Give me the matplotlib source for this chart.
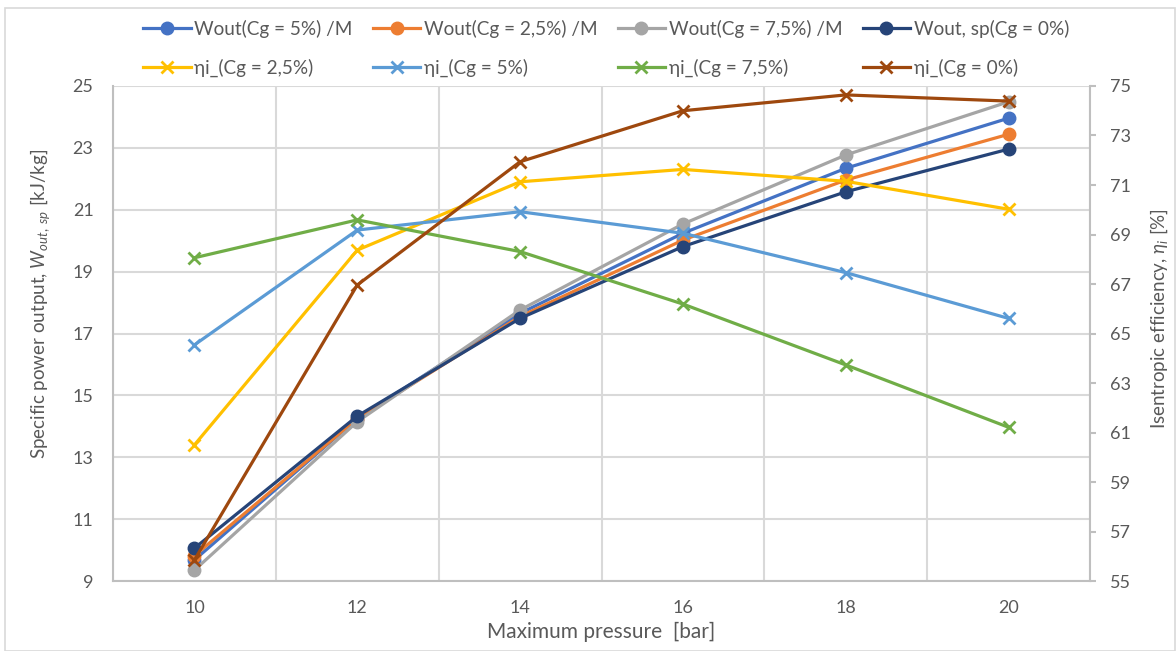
import matplotlib.pyplot as plt
import matplotlib.patches as patches

plt.rcParams['font.family'] = ['Lato', 'DejaVu Sans']
plt.rcParams['mathtext.fontset'] = 'custom'
plt.rcParams['mathtext.it'] = 'Lato:italic'
plt.rcParams['mathtext.rm'] = 'Lato'

pressure = [10, 12, 14, 16, 18, 20]

# specific power output [kJ/kg] (left axis)
w_cg5 = [9.68, 14.25, 17.65, 20.24, 22.34, 23.96]
w_cg25 = [9.82, 14.25, 17.55, 20.02, 21.96, 23.44]
w_cg75 = [9.35, 14.15, 17.76, 20.54, 22.77, 24.49]
w_cg0 = [10.06, 14.33, 17.49, 19.81, 21.58, 22.96]

# isentropic efficiency [%] (right axis)
eta_cg25 = [60.5, 68.37, 71.13, 71.63, 71.15, 70.02]
eta_cg5 = [64.54, 69.18, 69.92, 69.05, 67.46, 65.61]
eta_cg75 = [68.06, 69.59, 68.31, 66.19, 63.73, 61.21]
eta_cg0 = [55.85, 66.96, 71.94, 74.0, 74.64, 74.39]

w_labels = ['Wout(Cg = 5%) /M', 'Wout(Cg = 2,5%) /M', 'Wout(Cg = 7,5%) /M', 'Wout, sp(Cg = 0%)']
eta_labels = ['ηi_(Cg = 2,5%)', 'ηi_(Cg = 5%)', 'ηi_(Cg = 7,5%)', 'ηi_(Cg = 0%)']
w_colors = ['#4472C4', '#ED7D31', '#A5A5A5', '#264478']
eta_colors = ['#FFC000', '#5B9BD5', '#70AD47', '#9E480E']

txt = '#595959'
grid = '#D9D9D9'

fig = plt.figure(figsize=(11.76, 6.51), dpi=100)
fig.patches.append(patches.Rectangle((0.004, 0.0), 0.995, 0.988, transform=fig.transFigure,
                                     fill=False, edgecolor='#D9D9D9', lw=1.2))
ax = fig.add_axes([0.0961, 0.1075, 0.8308, 0.7604])
ax2 = ax.twinx()

w_handles = []
for ys, c, lab in zip([w_cg5, w_cg25, w_cg75, w_cg0], w_colors, w_labels):
    h, = ax.plot(pressure, ys, color=c, lw=2.3, marker='o', ms=9, label=lab, zorder=3)
    w_handles.append(h)

eta_handles = []
for ys, c, lab in zip([eta_cg25, eta_cg5, eta_cg75, eta_cg0], eta_colors, eta_labels):
    h, = ax2.plot(pressure, ys, color=c, lw=2.3, marker='x', ms=9, mew=2, label=lab, zorder=3)
    eta_handles.append(h)

ax.set_xlim(9, 21)
ax.set_ylim(9, 25)
ax2.set_ylim(55, 75)
ax.set_xticks(pressure)
ax.set_xticks([9, 11, 13, 15, 17, 19, 21], minor=True)
ax.set_yticks(range(9, 26, 2))
ax2.set_yticks(range(55, 76, 2))

ax.grid(True, which='minor', axis='x', color=grid, lw=1.5)
ax.grid(True, which='major', axis='y', color=grid, lw=1.5)
ax.set_axisbelow(True)

for a in (ax, ax2):
    for s in a.spines.values():
        s.set_visible(False)
ax.spines['left'].set_visible(True)
ax.spines['bottom'].set_visible(True)
ax2.spines['right'].set_visible(True)
for s in (ax.spines['left'], ax.spines['bottom'], ax2.spines['right']):
    s.set_color('#BFBFBF')
    s.set_linewidth(1.5)

ax.tick_params(axis='x', which='both', length=0, colors=txt, labelsize=13, pad=14)
ax.tick_params(axis='y', length=0, colors=txt, labelsize=13, pad=14)
ax2.tick_params(axis='y', length=4.5, width=1.5, color='#BFBFBF', labelcolor=txt, labelsize=13, pad=10)

ax.set_xlabel('Maximum pressure  [bar]', color=txt, fontsize=15, labelpad=4)
ax.set_ylabel(r'Specific power output, $W_{out,\ sp}$ [kJ/kg]', color=txt, fontsize=13.5, labelpad=18)
ax.yaxis.set_label_coords(-0.062, 0.56)
ax2.set_ylabel(r'Isentropic efficiency, $\eta_i$ [%]', color=txt, fontsize=13.5, labelpad=10)
ax2.yaxis.set_label_coords(1.06, 0.531)

# column-first fill of legend -> interleave so rows read W..., then eta...
handles = []
for hw, he in zip(w_handles, eta_handles):
    handles += [hw, he]
fig.legend(handles=handles, loc='upper left', bbox_to_anchor=(0.1216, 0.97),
           ncol=4, frameon=False, fontsize=13.7, labelcolor=txt, handlelength=2.5,
           columnspacing=1.05, handletextpad=0.2, labelspacing=1.1,
           borderpad=0, borderaxespad=0)

fig.savefig('out.png', dpi=100)
